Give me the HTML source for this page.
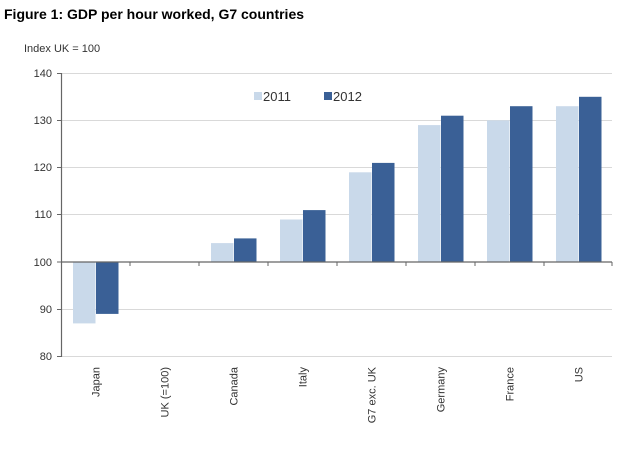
<!DOCTYPE html><html><head><style>body{margin:0;background:#fff}svg{display:block}text{font-family:"Liberation Sans",Arial,sans-serif}</style></head><body>
<svg width="620" height="449" xmlns="http://www.w3.org/2000/svg">
<text x="4" y="19" font-size="14" font-weight="bold" fill="#000">Figure 1: GDP per hour worked, G7 countries</text>
<text x="24" y="52" font-size="11" fill="#333">Index UK = 100</text>
<g stroke="#d9d9d9" stroke-width="1">
<line x1="61" x2="612" y1="73.5" y2="73.5"/><line x1="61" x2="612" y1="120.5" y2="120.5"/><line x1="61" x2="612" y1="167.5" y2="167.5"/><line x1="61" x2="612" y1="214.5" y2="214.5"/><line x1="61" x2="612" y1="309.5" y2="309.5"/><line x1="61" x2="612" y1="356.5" y2="356.5"/></g>
<g font-size="11" fill="#333" text-anchor="end">
<text x="52" y="77">140</text><text x="52" y="124">130</text><text x="52" y="171">120</text><text x="52" y="218">110</text><text x="52" y="266">100</text><text x="52" y="313">90</text><text x="52" y="360">80</text></g>
<g fill="#c9d9ea">
<rect x="73" y="262" width="22.5" height="61.4"/>
<rect x="211" y="243.1" width="22.5" height="18.9"/>
<rect x="280" y="219.5" width="22.5" height="42.5"/>
<rect x="349" y="172.3" width="22.5" height="89.7"/>
<rect x="418" y="125.1" width="22.5" height="136.9"/>
<rect x="487" y="120.4" width="22.5" height="141.6"/>
<rect x="556" y="106.2" width="22.5" height="155.8"/>
</g>
<g fill="#3a6096">
<rect x="96" y="262" width="22.5" height="51.9"/>
<rect x="234" y="238.4" width="22.5" height="23.6"/>
<rect x="303" y="210.1" width="22.5" height="51.9"/>
<rect x="372" y="162.9" width="22.5" height="99.1"/>
<rect x="441" y="115.7" width="22.5" height="146.3"/>
<rect x="510" y="106.2" width="22.5" height="155.8"/>
<rect x="579" y="96.8" width="22.5" height="165.2"/>
</g>
<g font-size="11" fill="#333" text-anchor="end">
<text transform="translate(99.5,367) rotate(-90)">Japan</text>
<text transform="translate(168.5,367) rotate(-90)">UK (=100)</text>
<text transform="translate(237.5,367) rotate(-90)">Canada</text>
<text transform="translate(306.5,367) rotate(-90)">Italy</text>
<text transform="translate(375.5,367) rotate(-90)">G7 exc. UK</text>
<text transform="translate(444.5,367) rotate(-90)">Germany</text>
<text transform="translate(513.5,367) rotate(-90)">France</text>
<text transform="translate(582.5,367) rotate(-90)">US</text>
</g>
<line x1="61" x2="612" y1="262" y2="262" stroke="#666" stroke-width="1.2"/>
<g stroke="#666"><line x1="130" x2="130" y1="262" y2="266"/><line x1="199" x2="199" y1="262" y2="266"/><line x1="268" x2="268" y1="262" y2="266"/><line x1="337" x2="337" y1="262" y2="266"/><line x1="406" x2="406" y1="262" y2="266"/><line x1="475" x2="475" y1="262" y2="266"/><line x1="544" x2="544" y1="262" y2="266"/><line x1="612" x2="612" y1="262" y2="266"/></g>
<line x1="61.5" x2="61.5" y1="73" y2="357" stroke="#666" stroke-width="1.2"/>
<g stroke="#666"><line x1="57" x2="61" y1="73.5" y2="73.5"/><line x1="57" x2="61" y1="120.5" y2="120.5"/><line x1="57" x2="61" y1="167.5" y2="167.5"/><line x1="57" x2="61" y1="214.5" y2="214.5"/><line x1="57" x2="61" y1="262" y2="262"/><line x1="57" x2="61" y1="309.5" y2="309.5"/><line x1="57" x2="61" y1="356.5" y2="356.5"/></g>
<rect x="254" y="92" width="8" height="8" fill="#c9d9ea"/><text x="263" y="101" font-size="13" fill="#333">2011</text>
<rect x="324" y="92" width="8" height="8" fill="#3a6096"/><text x="333" y="101" font-size="13" fill="#333">2012</text>
</svg></body></html>
